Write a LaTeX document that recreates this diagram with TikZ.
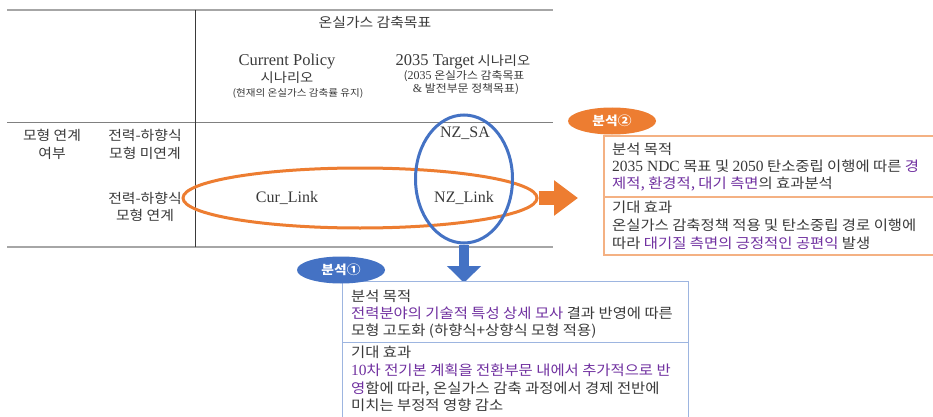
\documentclass[tikz,border=0pt]{standalone}
\usepackage{fontspec}
\setmainfont{Liberation Serif}
\newfontfamily\kr{Noto Sans CJK KR}[FakeStretch=1.1]
\usetikzlibrary{shapes.geometric,arrows.meta}
\definecolor{txt}{HTML}{3A3A3A}
\definecolor{org}{HTML}{ED7D31}
\definecolor{blu}{HTML}{4472C4}
\definecolor{lorg}{HTML}{F4B183}
\definecolor{lblu}{HTML}{9DB5E0}
\definecolor{pur}{HTML}{7030A0}
\definecolor{rule}{HTML}{A6A6A6}
\newcommand{\pu}[1]{\textcolor{pur}{#1}}
\newcommand{\lt}[1]{{\rmfamily\fontsize{15.5}{15.5}\selectfont #1}}
\newcommand{\ls}[1]{{\rmfamily\fontsize{12}{12}\selectfont #1}}
\begin{document}
\begin{tikzpicture}[x=1pt,y=-1pt,
  lbl/.style={inner sep=0pt, text=txt},
  krt/.style={lbl, font=\kr\fontsize{#1}{#1}\selectfont},
  krt/.default=12,
  lat/.style={lbl, font=\rmfamily\fontsize{#1}{#1}\selectfont},
  lat/.default=16,
  line/.style={krt=14, anchor=base west},
  thickrule/.style={draw=rule, line width=2.5pt},
  thinrule/.style={draw=gray, line width=0.8pt},
  oring/.style={ellipse, draw=org, line width=3pt, inner sep=0pt},
  bring/.style={ellipse, draw=blu, line width=3pt, inner sep=0pt},
  obox/.style={draw=lorg, line width=1.5pt, fill=white, anchor=north west, inner sep=0pt},
  bbox/.style={draw=lblu, line width=1.2pt, fill=white, anchor=north west, inner sep=0pt},
  tag/.style={ellipse, inner sep=0pt, minimum width=88pt, minimum height=27pt, text=white, font=\kr\bfseries\fontsize{12.5}{12.5}\selectfont},
]
\clip (0,0) rectangle (933,417);
\fill[white] (0,0) rectangle (933,417);

% table rules
\coordinate (tl) at (7,10);   \coordinate (tr) at (553,10);
\coordinate (ml) at (7,122);  \coordinate (mr) at (553,122);
\coordinate (bl) at (7,247);  \coordinate (br) at (553,247);
\coordinate (vt) at (195,10); \coordinate (vb) at (195,247);
\draw[thickrule] (tl) -- (tr);
\draw[thinrule] (ml) -- (mr);
\draw[thickrule] (bl) -- (br);
\draw[draw=txt, line width=0.8pt] (vt) -- (vb);

% headers
\node[krt=13.5] (hdr) at (375,22) {온실가스 감축목표};
\node[lat=16.5] (cp1) at (287,62) {Current Policy};
\node[krt=13] (cp2) at (287,78) {시나리오};
\node[krt=9.6] (cp3) at (298,93) {(현재의 온실가스 감축률 유지)};
\node[krt=13] (tg1) at (463,62) {{\rmfamily\fontsize{16.5}{16.5}\selectfont 2035 Target} 시나리오};
\node[krt=10.8] (tg2) at (464,76) {(\ls{2035} 온실가스 감축목표};
\node[krt=10.8] (tg3) at (466,89) {\ls{\&} 발전부문 정책목표)};

% row labels
\node[krt=13.5] (r1a) at (52,135) {모형 연계};
\node[krt=13.5] (r1b) at (52,153) {여부};
\node[krt=13.5] (r2a) at (145,135) {전력-하향식};
\node[krt=13.5] (r2b) at (145,153) {모형 미연계};
\node[krt=13.5] (r3a) at (145,198) {전력-하향식};
\node[krt=13.5] (r3b) at (145,215) {모형 연계};

% cells
\node[lat=16] (nzsa) at (465,133) {NZ\_SA};
\node[lat=16] (curl) at (287,198) {Cur\_Link};
\node[lat=16] (nzl) at (464,198) {NZ\_Link};

% rings
\node[oring, minimum width=354pt, minimum height=60pt] (oell) at (360,198) {};
\node[bring, minimum width=97pt, minimum height=128pt] (bell) at (464,179) {};

% arrows
\coordinate (otip) at (578,198);
\coordinate (btip) at (464,283);
\draw[org, line width=14pt, -{Triangle[width=34pt,length=24pt]}] (oell.east) -- (otip);
\draw[blu, line width=10pt, -{Triangle[width=33pt,length=17pt]}] (bell.south) -- (btip);

% box 2 (orange)
\node[obox, minimum width=340pt, minimum height=61pt] (p2) at (603,135) {};
\node[obox, minimum width=340pt, minimum height=58pt] (e2) at (603,196) {};
\node[line] (p2a) at (612,154) {분석 목적};
\node[line] (p2b) at (612,171) {\lt{2035 NDC} 목표 및 \lt{2050} 탄소중립 이행에 따른 \pu{경}};
\node[line] (p2c) at (612,188) {\pu{제적, 환경적, 대기 측면}의 효과분석};
\node[line] (e2a) at (612,212) {기대 효과};
\node[line] (e2b) at (612,230) {온실가스 감축정책 적용 및 탄소중립 경로 이행에};
\node[line] (e2c) at (612,248) {따라 \pu{대기질 측면의 긍정적인 공편익} 발생};
\node[tag, fill=org] (a2) at (612,121) {분석②};

% box 1 (blue)
\node[bbox, minimum width=346pt, minimum height=61pt] (p1) at (342,281) {};
\node[bbox, minimum width=346pt, minimum height=76pt] (e1) at (342,342) {};
\node[line] (p1a) at (351,301) {분석 목적};
\node[line] (p1b) at (351,318) {\pu{전력분야의 기술적 특성 상세 모사} 결과 반영에 따른};
\node[line] (p1c) at (351,335) {모형 고도화 (하향식+상향식 모형 적용)};
\node[line] (e1a) at (351,357) {기대 효과};
\node[line] (e1b) at (351,375) {\pu{\lt{10}차 전기본 계획을 전환부문 내에서 추가적으로 반}};
\node[line] (e1c) at (351,393) {\pu{영}함에 따라, 온실가스 감축 과정에서 경제 전반에};
\node[line] (e1d) at (351,410) {미치는 부정적 영향 감소};
\node[tag, fill=blu] (a1) at (341,270) {분석①};
\end{tikzpicture}
\end{document}
